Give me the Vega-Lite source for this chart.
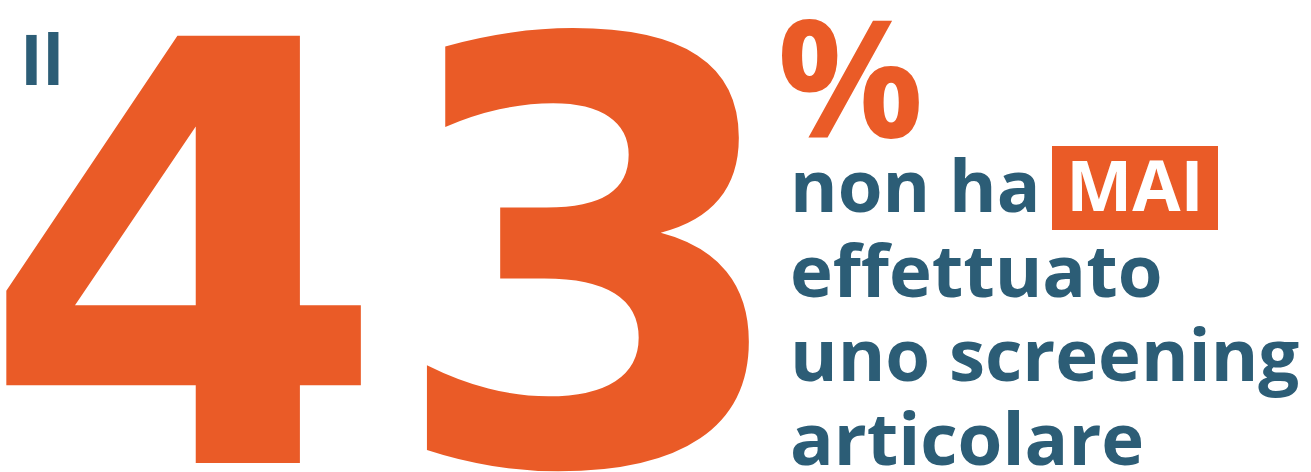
{
  "$schema": "https://vega.github.io/schema/vega-lite/v6.json",
  "width": 1311,
  "height": 472,
  "autosize": {"type": "none"},
  "padding": 0,
  "background": "white",
  "config": {"view": {"stroke": null}, "axis": {"disable": true}},
  "datasets": {
    "big": [{"value": 43, "x": -20, "y": 463}],
    "pct": [{"label": "%", "x": 777, "y": 138}],
    "intro": [{"label": "Il", "x": 20, "y": 85}],
    "lines": [
      {"label": "non ha", "x": 790, "y": 212},
      {"label": "effettuato", "x": 790, "y": 297},
      {"label": "uno screening", "x": 790, "y": 381},
      {"label": "articolare", "x": 790, "y": 465}
    ],
    "box": [{"label": "MAI", "x0": 1052, "x1": 1218, "y0": 146, "y1": 230, "tx": 1135, "ty": 211}]
  },
  "layer": [
    {
      "data": {"name": "box"},
      "mark": {"type": "rect", "color": "#EA5B27"},
      "encoding": {
        "x": {"field": "x0", "type": "quantitative", "scale": {"domain": [0, 1311], "nice": false, "zero": false}, "axis": null},
        "x2": {"field": "x1"},
        "y": {"field": "y0", "type": "quantitative", "scale": {"domain": [0, 472], "nice": false, "zero": false, "reverse": true}, "axis": null},
        "y2": {"field": "y1"}
      }
    },
    {
      "data": {"name": "box"},
      "mark": {"type": "text", "font": "Open Sans", "fontWeight": "bold", "fontSize": 70, "align": "center", "baseline": "alphabetic", "color": "white"},
      "encoding": {
        "x": {"field": "tx", "type": "quantitative"},
        "y": {"field": "ty", "type": "quantitative"},
        "text": {"field": "label"}
      }
    },
    {
      "data": {"name": "big"},
      "mark": {"type": "text", "font": "DejaVu Sans", "fontWeight": "bold", "fontSize": 586, "align": "left", "baseline": "alphabetic", "color": "#EA5B27"},
      "encoding": {
        "x": {"field": "x", "type": "quantitative"},
        "y": {"field": "y", "type": "quantitative"},
        "text": {"field": "value", "type": "quantitative", "format": "d"}
      }
    },
    {
      "data": {"name": "pct"},
      "mark": {"type": "text", "font": "Open Sans", "fontWeight": "bold", "fontSize": 163, "align": "left", "baseline": "alphabetic", "color": "#EA5B27"},
      "encoding": {
        "x": {"field": "x", "type": "quantitative"},
        "y": {"field": "y", "type": "quantitative"},
        "text": {"field": "label"}
      }
    },
    {
      "data": {"name": "intro"},
      "mark": {"type": "text", "font": "Open Sans", "fontWeight": "bold", "fontSize": 69, "align": "left", "baseline": "alphabetic", "color": "#2C5D76"},
      "encoding": {
        "x": {"field": "x", "type": "quantitative"},
        "y": {"field": "y", "type": "quantitative"},
        "text": {"field": "label"}
      }
    },
    {
      "data": {"name": "lines"},
      "mark": {"type": "text", "font": "Open Sans", "fontWeight": "bold", "fontSize": 72.5, "align": "left", "baseline": "alphabetic", "color": "#2C5D76"},
      "encoding": {
        "x": {"field": "x", "type": "quantitative"},
        "y": {"field": "y", "type": "quantitative"},
        "text": {"field": "label"}
      }
    }
  ]
}
